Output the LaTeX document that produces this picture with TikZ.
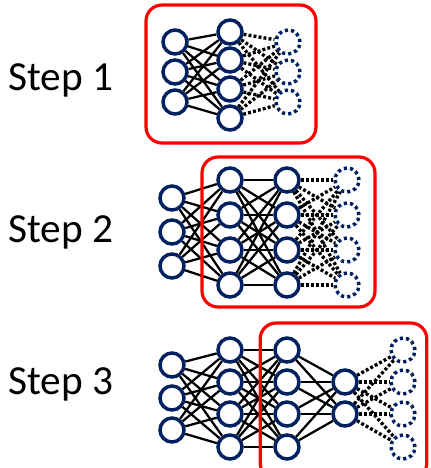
\documentclass[tikz,border=0pt]{standalone}
\usepackage{fontspec}
\setmainfont{Carlito}
\definecolor{navy}{RGB}{0,32,96}
\definecolor{boxred}{RGB}{255,0,0}
\begin{document}
\begin{tikzpicture}[x=0.75pt,y=-0.75pt,
  neuron/.style={circle,draw=navy,line width=2.6pt,minimum size=18pt,inner sep=0pt},
  dneuron/.style={circle,draw=navy,line width=2.6pt,minimum size=18pt,inner sep=0pt,dash pattern=on 2.4pt off 2.3pt},
  conn/.style={black,line width=1.7pt},
  dconn/.style={black,line width=2.5pt,dash pattern=on 2.2pt off 1.6pt},
  frame/.style={draw=boxred,line width=2.4pt,rounded corners=12pt},
  lbl/.style={font=\fontsize{31}{37}\selectfont,inner sep=0pt}]
\useasboundingbox (0,0) rectangle (430,468);
% labels
\node[lbl] (s1) at (61,80) {Step 1};
\node[lbl] (s2) at (61,232) {Step 2};
\node[lbl] (s3) at (61,384) {Step 3};
% ---- Step 1
\foreach \i/\y in {1/42,2/72,3/102} \node[neuron] (a1\i) at (175,\y) {};
\foreach \i/\y in {1/32,2/60,3/89,4/118} \node[neuron] (a2\i) at (230,\y) {};
\foreach \i/\y in {1/42,2/72,3/102} \node[dneuron] (a3\i) at (288,\y) {};
\foreach \i in {1,2,3} \foreach \j in {1,2,3,4} \draw[conn] (a1\i) -- (a2\j);
\foreach \i in {1,2,3,4} \foreach \j in {1,2,3} \draw[dconn] (a2\i) -- (a3\j);
\node[frame,minimum width=127.5pt,minimum height=103.5pt] (f1) at (231,74) {};
% ---- Step 2
\foreach \i/\y in {1/198,2/232,3/266} \node[neuron] (b1\i) at (172,\y) {};
\foreach \i/\y in {1/180,2/215,3/250,4/285} \node[neuron] (b2\i) at (230,\y) {};
\foreach \i/\y in {1/180,2/215,3/250,4/285} \node[neuron] (b3\i) at (287,\y) {};
\foreach \i/\y in {1/180,2/215,3/250,4/285} \node[dneuron] (b4\i) at (347,\y) {};
\foreach \i in {1,2,3} \foreach \j in {1,2,3,4} \draw[conn] (b1\i) -- (b2\j);
\foreach \i in {1,2,3,4} \foreach \j in {1,2,3,4} \draw[conn] (b2\i) -- (b3\j);
\foreach \i in {1,2,3,4} \foreach \j in {1,2,3,4} \draw[dconn] (b3\i) -- (b4\j);
\node[frame,minimum width=129.75pt,minimum height=112.5pt] (f2) at (288.5,232) {};
% ---- Step 3
\foreach \i/\y in {1/365,2/398,3/430} \node[neuron] (c1\i) at (172,\y) {};
\foreach \i/\y in {1/350,2/382,3/414,4/447} \node[neuron] (c2\i) at (230,\y) {};
\foreach \i/\y in {1/350,2/382,3/414,4/447} \node[neuron] (c3\i) at (287,\y) {};
\foreach \i/\y in {1/382,2/414} \node[neuron] (c4\i) at (345,\y) {};
\foreach \i/\y in {1/350,2/382,3/414,4/447} \node[dneuron] (c5\i) at (403,\y) {};
\foreach \i in {1,2,3} \foreach \j in {1,2,3,4} \draw[conn] (c1\i) -- (c2\j);
\foreach \i in {1,2,3,4} \foreach \j in {1,2,3,4} \draw[conn] (c2\i) -- (c3\j);
\foreach \i in {1,2,3,4} \foreach \j in {1,2} \draw[conn] (c3\i) -- (c4\j);
\foreach \i in {1,2} \foreach \j in {1,2,3,4} \draw[dconn] (c4\i) -- (c5\j);
\node[frame,minimum width=125pt,minimum height=117pt] (f3) at (343.5,401) {};
\end{tikzpicture}
\end{document}
